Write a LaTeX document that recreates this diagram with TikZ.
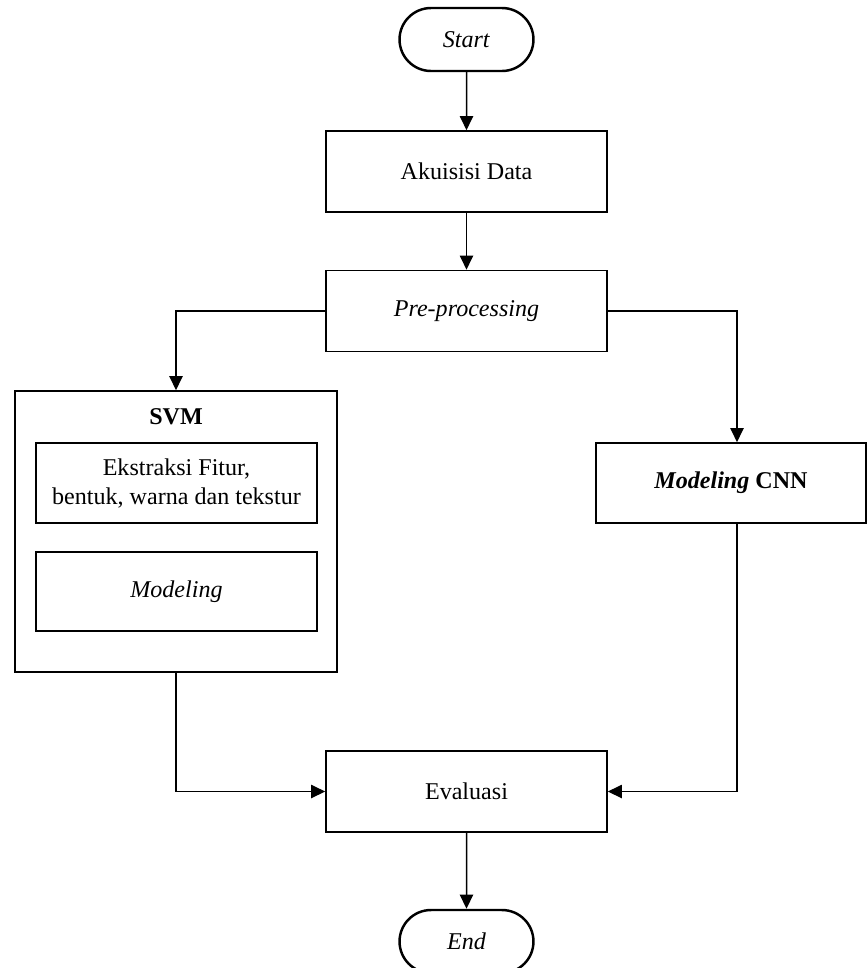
\documentclass[tikz,border=0pt]{standalone}
\usepackage{fontspec}
\setmainfont{Liberation Serif}
\usetikzlibrary{arrows.meta,shapes.misc}

\tikzset{
  box/.style={draw,line width=0.9pt,minimum width=5.62cm,minimum height=1.62cm,align=center,inner sep=2pt,font=\fontsize{13.7}{16.5}\selectfont},
  terminal/.style={draw,line width=1.4pt,rounded rectangle,minimum width=2.82cm,minimum height=1.26cm,inner sep=2pt,font=\fontsize{13.7}{16.5}\selectfont},
  arrow/.style={line width=0.85pt,-{Triangle[width=7.5pt,length=8pt]}},
}

\begin{document}
\begin{tikzpicture}[x=0.02cm,y=-0.02cm]
    \useasboundingbox (0,0) rectangle (867,968);

    \node[terminal] (start) at (466.5,39.5) {\textit{Start}};
    \node[box] (akuisisi) at (466.5,171.5) {Akuisisi Data};
    \node[box] (prepro) at (466.5,311) {\textit{Pre-processing}};

    % SVM block
    \node[box,minimum width=6.44cm,minimum height=5.62cm] (svm) at (176,531.5) {};
    \node[font=\fontsize{13.7}{16.5}\selectfont\bfseries] (svmlabel) at (176,417) {SVM};
    \node[box,minimum height=1.6cm] (ekstraksi) at (176.5,483) {Ekstraksi Fitur,\\ bentuk, warna dan tekstur};
    \node[box,minimum height=1.58cm] (modeling) at (176.5,591.5) {\textit{Modeling}};

    \node[box,minimum width=5.4cm,minimum height=1.6cm] (cnn) at (731,483) {\textbf{\textit{Modeling} CNN}};

    \node[box] (evaluasi) at (466.5,791.5) {Evaluasi};
    \node[terminal] (end) at (466.5,941.5) {\textit{End}};

    \draw[arrow] (start) -- (akuisisi);
    \draw[arrow] (akuisisi) -- (prepro);
    \draw[arrow] (prepro.west) -| (svm.north);
    \draw[arrow] (prepro.east) -| ([xshift=0.12cm]cnn.north);
    \draw[arrow] (svm.south) |- (evaluasi.west);
    \draw[arrow] ([xshift=0.12cm]cnn.south) |- (evaluasi.east);
    \draw[arrow] (evaluasi) -- (end);
\end{tikzpicture}
\end{document}
